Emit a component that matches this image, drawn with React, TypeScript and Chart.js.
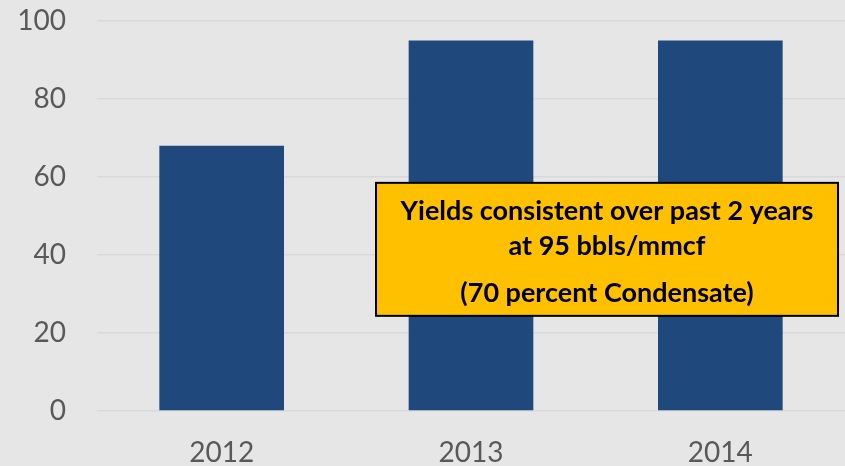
import React, { useEffect, useRef } from "react";
import { Chart, registerables } from "chart.js";

Chart.register(...registerables);

const categories = ["2012", "2013", "2014"];
const yieldValues = [68, 95, 95];
const yTicks = [0, 20, 40, 60, 80, 100];
const noteLines = [
  "Yields consistent over past 2 years",
  "at 95 bbls/mmcf",
  "(70 percent Condensate)",
];

const FONT = "Lato, 'Open Sans', sans-serif";

const notePlugin = {
  id: "noteBox",
  afterDatasetsDraw(chart: any) {
    const { ctx, scales } = chart;
    const x = scales.x;
    const y = scales.y;
    const left = x.getPixelForValue(0.619);
    const right = x.getPixelForValue(2.472);
    const top = y.getPixelForValue(58.5);
    const bottom = y.getPixelForValue(24.4);
    ctx.save();
    ctx.fillStyle = "#ffc000";
    ctx.fillRect(left, top, right - left, bottom - top);
    ctx.strokeStyle = "#000000";
    ctx.lineWidth = 2;
    ctx.strokeRect(left, top, right - left, bottom - top);
    ctx.fillStyle = "#000000";
    ctx.textAlign = "center";
    ctx.textBaseline = "middle";
    ctx.font = `bold 27px ${FONT}`;
    const cx = (left + right) / 2;
    const ys = [y.getPixelForValue(51.3), y.getPixelForValue(42.3), y.getPixelForValue(30.3)];
    noteLines.forEach((t, i) => ctx.fillText(t, cx, ys[i]));
    ctx.restore();
  },
};

export default function App() {
  const ref = useRef<HTMLCanvasElement>(null);
  useEffect(() => {
    document.body.style.margin = "0";
    const chart = new Chart(ref.current!, {
      type: "bar",
      data: {
        labels: categories,
        datasets: [
          {
            data: yieldValues,
            backgroundColor: "#1f497d",
            categoryPercentage: 1,
            barPercentage: 0.5,
          },
        ],
      },
      options: {
        animation: false,
        responsive: false,
        layout: { padding: { top: 21, right: 0, left: 0, bottom: 0 } },
        plugins: { legend: { display: false }, tooltip: { enabled: false } },
        scales: {
          x: {
            grid: { display: false },
            border: { display: false },
            ticks: { color: "#595959", font: { family: FONT, size: 28 }, padding: 17 },
            afterFit(s: any) {
              s.height = 55;
              s.paddingLeft = 0;
              s.paddingRight = 0;
            },
          },
          y: {
            min: 0,
            max: 100,
            afterBuildTicks(s: any) {
              s.ticks = yTicks.map((v) => ({ value: v }));
            },
            grid: { color: "#d9d9d9", lineWidth: 1.5, drawTicks: false },
            border: { display: false },
            ticks: { color: "#595959", font: { family: FONT, size: 28 }, padding: 31 },
            afterFit(s: any) {
              s.width = 97;
              s.paddingTop = 0;
              s.paddingBottom = 0;
            },
          },
        },
      },
      plugins: [notePlugin],
    });
    return () => chart.destroy();
  }, []);
  return (
    <div style={{ width: 845, height: 466, background: "#e6e6e6" }}>
      <canvas ref={ref} width={845} height={466} style={{ display: "block" }} />
    </div>
  );
}
